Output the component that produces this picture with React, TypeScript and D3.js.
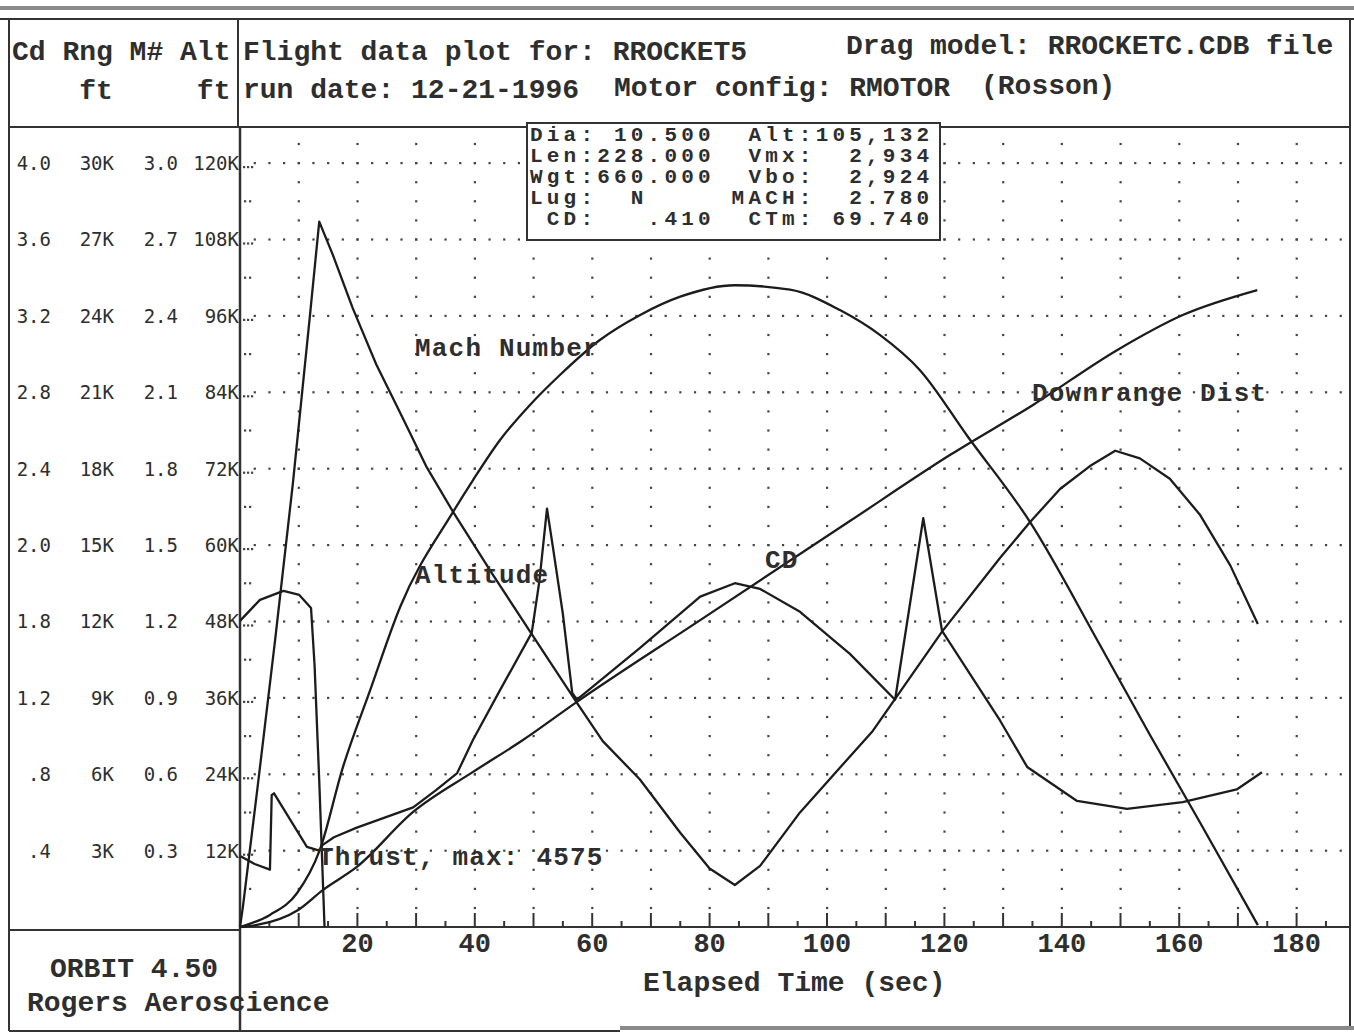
import React, { useEffect, useRef } from 'react';
import * as d3 from 'd3';

// ---- flight data: [time s, value] ----
const thrust = [
  [0, 4167], [3.4, 4453], [7.4, 4575], [10.1, 4520], [12.1, 4343],
  [12.7, 3570], [13.5, 1990], [14.4, 0],
];
const mach = [
  [0, 0], [0.5, 0.08], [3, 0.55], [6, 1.13], [9, 1.74], [12, 2.42], [13.5, 2.77],
  [15.8, 2.64], [19.2, 2.43], [23.2, 2.21], [27.7, 2.0], [31.7, 1.81], [36.3, 1.63],
  [42.9, 1.39], [49.7, 1.15], [57.4, 0.88], [61.8, 0.73], [68.1, 0.58], [75, 0.37],
  [80, 0.23], [84.3, 0.165], [88.6, 0.24], [95.4, 0.45], [107.8, 0.77], [119.6, 1.16],
  [129.5, 1.45], [134.6, 1.59], [139.7, 1.72], [144.8, 1.81], [149.1, 1.87],
  [153.3, 1.84], [158.4, 1.76], [163.5, 1.62], [168.7, 1.42], [173.4, 1.19],
];
const altitude = [
  [0, 0], [5.1, 1900], [9.7, 5300], [13.6, 12100], [17.5, 25000], [22.1, 37000],
  [27.3, 50300], [36.3, 65200], [39.7, 70200], [44.3, 76500], [49.4, 82000],
  [54.5, 86700], [61.3, 92200], [68.1, 96100], [75, 99000], [84.3, 100800],
  [93.7, 100100], [102.2, 96900], [109, 93000], [115.8, 87500], [124, 77000],
  [134.6, 63600], [146.5, 44300], [155, 30200], [163.5, 16500], [173.4, 300],
];
const downrange = [
  [0, 0], [2.9, 80], [9.9, 670], [14.1, 1450], [19.9, 2360], [29.5, 4520],
  [39.7, 6090], [48.2, 7340], [57.4, 8840], [78.4, 12050], [103.9, 15940],
  [121, 18540], [135.1, 20500], [149.4, 22650], [160.6, 24030], [173.3, 25010],
];
const dragCoef = [
  [0.1, 0.37], [2.5, 0.33], [5.1, 0.3], [5.4, 0.69], [5.8, 0.7], [11.4, 0.42],
  [13.5, 0.4], [14.1, 0.43], [16, 0.47], [19.9, 0.52], [29.5, 0.626], [33.4, 0.717],
  [37, 0.806], [39.7, 0.98], [44.3, 1.24], [49.7, 1.54], [51, 1.81], [52.3, 2.19],
  [53.3, 1.99], [55, 1.64], [56.6, 1.225], [57.4, 1.19], [68.1, 1.46], [78.4, 1.73],
  [84.3, 1.8], [88.6, 1.77], [95.4, 1.65], [103.9, 1.43], [111.6, 1.19], [116.4, 2.14],
  [119.6, 1.55], [129.5, 1.08], [134.1, 0.838], [142.6, 0.66], [151.1, 0.618],
  [160.6, 0.654], [169.8, 0.72], [174.1, 0.81],
];

// ---- axis labels ----
const altTicks = [120000, 108000, 96000, 84000, 72000, 60000, 48000, 36000, 24000, 12000];
const cdLabels = ['4.0', '3.6', '3.2', '2.8', '2.4', '2.0', '1.8', '1.2', '.8', '.4'];
const rngLabels = ['30K', '27K', '24K', '21K', '18K', '15K', '12K', '9K', '6K', '3K'];
const machLabels = ['3.0', '2.7', '2.4', '2.1', '1.8', '1.5', '1.2', '0.9', '0.6', '0.3'];
const altLabels = ['120K', '108K', '96K', '84K', '72K', '60K', '48K', '36K', '24K', '12K'];
const timeTicks = [20, 40, 60, 80, 100, 120, 140, 160, 180];

const infoLines = [
  'Dia: 10.500  Alt:105,132',
  'Len:228.000  Vmx:  2,934',
  'Wgt:660.000  Vbo:  2,924',
  'Lug:  N     MACH:  2.780',
  ' CD:   .410  CTm: 69.740',
];

const MONO = '"Liberation Mono", "DejaVu Sans Mono", monospace';
const SANS = '"DejaVu Sans Mono", monospace';
const INK = '#2e2e2e';

const App = () => {
  const svgRef = useRef(null);

  useEffect(() => {
    const W = 1354, H = 1035;
    const svg = d3.select(svgRef.current).attr('width', W).attr('height', H);
    svg.selectAll('*').remove();
    svg.append('rect').attr('width', W).attr('height', H).attr('fill', '#fff');

    // scales: all series share the same pixel frame, each with its own domain
    const x = d3.scaleLinear().domain([0, 180]).range([240, 1296.6]);
    const yAlt = d3.scaleLinear().domain([0, 120000]).range([927, 163]);
    const yMach = d3.scaleLinear().domain([0, 3]).range([927, 163]);
    const yRng = d3.scaleLinear().domain([0, 30000]).range([927, 163]);
    const yCd = d3.scaleLinear().domain([0, 4]).range([927, 163]);
    const yThr = d3.scaleLinear().domain([0, 10400]).range([927, 163]);

    // dotted grid
    const grid = svg.append('g').attr('fill', '#444');
    const dot = (px, py) =>
      grid.append('rect').attr('x', px - 1).attr('y', py - 1).attr('width', 2.2).attr('height', 2.2);
    altTicks.forEach((v) => {
      for (let t = 2.5; x(t) < 1346; t += 2.5) dot(x(t), yAlt(v));
    });
    for (let t = 10; t <= 180; t += 10) {
      for (let a = 3000; a <= 123000; a += 3000) dot(x(t), yAlt(a));
    }
    // ".." marks on the y axis between rows
    for (let a = 6000; a <= 114000; a += 12000) {
      dot(245, yAlt(a));
      dot(250, yAlt(a));
    }
    // "..." after each row label
    altTicks.forEach((v) => [244, 248, 252].forEach((px) => dot(px, yAlt(v) + 4)));

    // frame lines
    const frame = svg.append('g').attr('fill', 'none');
    const seg = (x1, y1, x2, y2, w = 2, c = '#333') =>
      frame.append('line').attr('x1', x1).attr('y1', y1).attr('x2', x2).attr('y2', y2)
        .attr('stroke-width', w).attr('stroke', c);
    seg(0, 8, W, 8, 4, '#8a8a8a');
    seg(0, 19, W, 19, 2);
    seg(9, 19, 9, 1031, 2);
    seg(1350, 19, 1350, 1028, 2);
    seg(9, 127, 1350, 127, 2);
    seg(238, 19, 238, 127, 2);
    seg(240, 127, 240, 1031, 2.5);
    seg(9, 930, 240, 930, 2);
    seg(240, 927, 1350, 927, 2);
    seg(9, 1031, 620, 1031, 2);
    seg(620, 1028, W, 1028, 4, '#8a8a8a');

    // x-axis ticks
    for (let t = 5; x(t) < 1350; t += 5) {
      const major = t % 10 === 0;
      seg(x(t), 927, x(t), 927 - (major ? 14 : 6), 2);
    }

    // info box
    svg.append('rect').attr('x', 527).attr('y', 123).attr('width', 413).attr('height', 117)
      .attr('fill', '#fff').attr('stroke', '#333').attr('stroke-width', 2);

    // series
    const lines = svg.append('g').attr('fill', 'none').attr('stroke', '#1c1c1c')
      .attr('stroke-width', 2.3).attr('stroke-linejoin', 'round');
    const draw = (data, y, curve = d3.curveLinear) =>
      lines.append('path').attr('d', d3.line().curve(curve).x((d) => x(d[0])).y((d) => y(d[1]))(data));
    draw(thrust, yThr);
    draw(mach, yMach);
    draw(altitude, yAlt, d3.curveMonotoneX);
    draw(downrange, yRng, d3.curveMonotoneX);
    draw(dragCoef, yCd);

    // text helpers
    const txt = (s, px, py, opts = {}) => {
      const { font = MONO, size = 28, weight = 'bold', anchor = 'start', spacing = 0 } = opts;
      svg.append('text').attr('x', px).attr('y', py).text(s)
        .attr('font-family', font).attr('font-size', size).attr('font-weight', weight)
        .attr('text-anchor', anchor).attr('letter-spacing', spacing)
        .attr('fill', INK).style('white-space', 'pre');
    };

    // header
    txt('Cd Rng M# Alt', 12, 60);
    txt('    ft     ft', 12, 99);
    txt('Flight data plot for: RROCKET5', 243, 60);
    txt('Drag model: RROCKETC.CDB file', 846, 54);
    txt('run date: 12-21-1996', 243, 98);
    txt('Motor config: RMOTOR', 614, 96);
    txt('(Rosson)', 981, 94);

    // y labels (four stacked scales)
    altTicks.forEach((v, i) => {
      const py = yAlt(v) + 7;
      const o = { font: SANS, size: 19, weight: 'normal', anchor: 'end' };
      txt(cdLabels[i], 51, py, o);
      txt(rngLabels[i], 114, py, o);
      txt(machLabels[i], 178, py, o);
      txt(altLabels[i], 239, py, o);
    });

    // x labels
    timeTicks.forEach((t) => txt(String(t), x(t), 952, { anchor: 'middle', size: 27 }));
    txt('Elapsed Time (sec)', 643, 991);

    // footer
    txt('ORBIT 4.50', 50, 977);
    txt('Rogers Aeroscience', 27, 1011);

    // info box text
    infoLines.forEach((s, i) => txt(s, 530, 141 + i * 21, { size: 21, spacing: 4.2 }));

    // curve labels
    txt('Mach Number', 415, 356, { size: 26, spacing: 1.2 });
    txt('Altitude', 415, 583, { size: 26, spacing: 1.2 });
    txt('CD', 765, 568, { size: 26, spacing: 1.2 });
    txt('Downrange Dist', 1032, 401, { size: 26, spacing: 1.2 });
    txt('Thrust, max: 4575', 318, 865, { size: 26, spacing: 1.2 });
  }, []);

  return <svg ref={svgRef} style={{ position: 'absolute', left: 0, top: 0, display: 'block' }} />;
};

export default App;
